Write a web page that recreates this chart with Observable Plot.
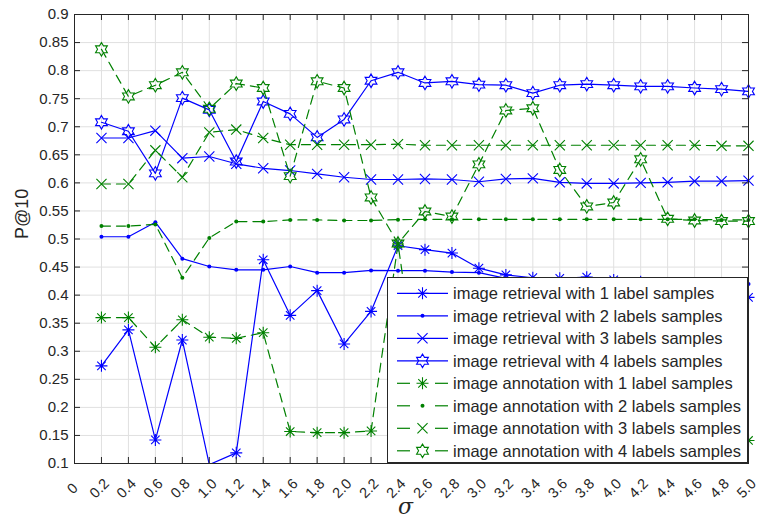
<!DOCTYPE html>
<html><head><meta charset="utf-8">
<script src="https://cdn.jsdelivr.net/npm/d3@7"></script>
<script src="https://cdn.jsdelivr.net/npm/@observablehq/plot@0.6"></script>
<style>body{margin:0;background:#fff;} svg{display:block;}</style>
</head><body><div id="chart"></div>
<script>
// ---- data ----
const sigma = [0.2,0.4,0.6,0.8,1.0,1.2,1.4,1.6,1.8,2.0,2.2,2.4,2.6,2.8,3.0,3.2,3.4,3.6,3.8,4.0,4.2,4.4,4.6,4.8,5.0];
const retrieval1 = [0.274,0.338,0.142,0.320,0.098,0.119,0.463,0.364,0.408,0.313,0.371,0.488,0.481,0.475,0.448,0.436,0.431,0.430,0.432,0.427,0.424,0.418,0.414,0.408,0.396];
const retrieval2 = [0.504,0.504,0.530,0.465,0.451,0.445,0.445,0.451,0.440,0.440,0.444,0.4435,0.4435,0.441,0.440,0.430,0.428,0.426,0.427,0.425,0.424,0.422,0.423,0.421,0.420];
const retrieval3 = [0.680,0.680,0.693,0.644,0.647,0.634,0.626,0.622,0.616,0.610,0.606,0.606,0.607,0.606,0.602,0.607,0.608,0.601,0.599,0.599,0.600,0.601,0.603,0.603,0.604];
const retrieval4 = [0.708,0.692,0.617,0.751,0.730,0.638,0.745,0.723,0.681,0.713,0.782,0.797,0.778,0.781,0.775,0.774,0.760,0.774,0.776,0.774,0.772,0.772,0.769,0.767,0.763];
const annotation1 = [0.360,0.360,0.307,0.356,0.325,0.323,0.333,0.157,0.155,0.155,0.158,0.491,0.160,0.155,0.158,0.152,0.156,0.150,0.153,0.149,0.151,0.147,0.148,0.145,0.141];
const annotation2 = [0.523,0.523,0.526,0.431,0.502,0.531,0.531,0.534,0.534,0.533,0.533,0.5345,0.535,0.535,0.535,0.535,0.535,0.535,0.535,0.535,0.535,0.535,0.535,0.534,0.534];
const annotation3 = [0.598,0.598,0.658,0.610,0.690,0.695,0.680,0.668,0.668,0.668,0.668,0.669,0.667,0.667,0.667,0.667,0.667,0.667,0.667,0.667,0.667,0.667,0.667,0.666,0.666];
const annotation4 = [0.838,0.754,0.774,0.797,0.732,0.777,0.769,0.612,0.781,0.769,0.574,0.492,0.549,0.540,0.633,0.729,0.733,0.623,0.558,0.565,0.642,0.536,0.533,0.532,0.532];
const seriesNames = [
  "image retrieval with 1 label samples",
  "image retrieval with 2 labels samples",
  "image retrieval with 3 labels samples",
  "image retrieval with 4 labels samples",
  "image annotation with 1 label samples",
  "image annotation with 2 labels samples",
  "image annotation with 3 labels samples",
  "image annotation with 4 labels samples"
];
const xTicks = [0,0.2,0.4,0.6,0.8,1.0,1.2,1.4,1.6,1.8,2.0,2.2,2.4,2.6,2.8,3.0,3.2,3.4,3.6,3.8,4.0,4.2,4.4,4.6,4.8,5.0];
const yTicks = [0.1,0.15,0.2,0.25,0.3,0.35,0.4,0.45,0.5,0.55,0.6,0.65,0.7,0.75,0.8,0.85,0.9];
const xLabel = "σ";
const yLabel = "P@10";

// ---- marker symbols ----
const asterisk = {draw(ctx, size){ const r = Math.sqrt(size/Math.PI), d = r*Math.SQRT1_2;
  ctx.moveTo(-r,0);ctx.lineTo(r,0);ctx.moveTo(0,-r);ctx.lineTo(0,r);
  ctx.moveTo(-d,-d);ctx.lineTo(d,d);ctx.moveTo(-d,d);ctx.lineTo(d,-d);}};
const cross = {draw(ctx, size){ const r = Math.sqrt(size/Math.PI)*0.78;
  ctx.moveTo(-r,-r);ctx.lineTo(r,r);ctx.moveTo(-r,r);ctx.lineTo(r,-r);}};
const hexagram = {draw(ctx, size){ const R = Math.sqrt(size/Math.PI), ri = R/Math.sqrt(3);
  for(let k=0;k<12;k++){ const a = -Math.PI/2 + k*Math.PI/6; const rr = k%2===0?R:ri;
    const px = rr*Math.cos(a), py = rr*Math.sin(a); if(k===0) ctx.moveTo(px,py); else ctx.lineTo(px,py);} ctx.closePath();}};

const blue = "#0000ff", green = "#008000";
const specs = [
  {vals: retrieval1, color: blue, dash: null, sym: asterisk, r: 6},
  {vals: retrieval2, color: blue, dash: null, sym: "dot", r: 2},
  {vals: retrieval3, color: blue, dash: null, sym: cross, r: 6.5},
  {vals: retrieval4, color: blue, dash: null, sym: hexagram, r: 6.8},
  {vals: annotation1, color: green, dash: "9,6", sym: asterisk, r: 6},
  {vals: annotation2, color: green, dash: "9,6", sym: "dot", r: 2},
  {vals: annotation3, color: green, dash: "9,6", sym: cross, r: 6.5},
  {vals: annotation4, color: green, dash: "9,6", sym: hexagram, r: 6.8}
];
specs.forEach((s,i) => { s.name = seriesNames[i]; s.rows = sigma.map((x,j) => ({x, y: s.vals[j]})); });

const fmtX = d => d === 0 ? "0" : d.toFixed(1);
const fmtY = d => String(+d.toFixed(2));
const frameColor = "#262626";
const plotH = 520 - 14 - 57, plotW = 758 - 74 - 10;

const marks = [
  Plot.gridX(xTicks, {stroke: "#e0e0e0", strokeOpacity: 1}),
  Plot.gridY(yTicks, {stroke: "#e0e0e0", strokeOpacity: 1})
];
for (const s of specs) {
  marks.push(Plot.line(s.rows, {x: "x", y: "y", stroke: s.color, strokeWidth: 1.2, strokeDasharray: s.dash, clip: true}));
  const inside = d => d.y >= 0.1 && d.y <= 0.9;
  if (s.sym === "dot") marks.push(Plot.dot(s.rows, {x: "x", y: "y", r: s.r, fill: s.color, stroke: "none", filter: inside}));
  else marks.push(Plot.dot(s.rows, {x: "x", y: "y", r: s.r, symbol: s.sym, stroke: s.color, fill: "none", strokeWidth: 1.1, filter: inside}));
}
marks.push(
  Plot.frame({stroke: frameColor, strokeWidth: 1}),
  Plot.tickX(xTicks, {x: d => d, insetTop: plotH - 6, stroke: frameColor}),
  Plot.tickX(xTicks, {x: d => d, insetBottom: plotH - 6, stroke: frameColor}),
  Plot.tickY(yTicks, {y: d => d, insetRight: plotW - 6, stroke: frameColor}),
  Plot.tickY(yTicks, {y: d => d, insetLeft: plotW - 6, stroke: frameColor}),
  Plot.axisY({ticks: yTicks, tickSize: 0, tickPadding: 6, tickFormat: fmtY, label: null, fontSize: 15, fill: "#262626"}),
  Plot.text(xTicks, {x: d => d, text: fmtX, frameAnchor: "bottom", dy: 25, dx: -2, rotate: -45, textAnchor: "middle", lineAnchor: "middle", fontSize: 14.5, fill: "#262626"}),
  Plot.text([xLabel], {text: d => d, frameAnchor: "bottom", dy: 50, dx: -6, lineAnchor: "bottom", fontSize: 22, fontStyle: "italic", fontFamily: "DejaVu Serif, Liberation Serif, serif", fill: "#262626"}),
  Plot.text([yLabel], {text: d => d, frameAnchor: "left", dx: -52, rotate: -90, fontSize: 18, fill: "#262626"})
);

const chart = Plot.plot({
  width: 758, height: 520,
  marginLeft: 74, marginRight: 10, marginTop: 14, marginBottom: 57,
  x: {domain: [0, 5], axis: null},
  y: {domain: [0.1, 0.9], axis: null},
  style: {fontFamily: "'Liberation Sans', Arial, Helvetica, sans-serif", fontSize: "15px", background: "#fff", overflow: "visible"},
  marks
});
document.getElementById("chart").appendChild(chart);

// ---- legend (inside plot, bottom-right) ----
const xs = chart.scale("x"), ys = chart.scale("y");
const right = xs.range[1], bottom = ys.range[0];
const lx0 = right - 361, ly0 = bottom - 186;
const svg = d3.select(chart);
const g = svg.append("g")
  .attr("font-family", "'Liberation Sans', Arial, Helvetica, sans-serif")
  .attr("font-size", 16.5).attr("text-anchor", "start");
g.append("rect").attr("x", lx0 + 0.5).attr("y", ly0 + 0.5).attr("width", 360).attr("height", 185)
  .attr("fill", "#fff").attr("stroke", frameColor).attr("stroke-width", 1);
specs.forEach((s, i) => {
  const cy = ly0 + 16.3 + i * 22.5;
  const a = lx0 + 10, b = lx0 + 61, m = (a + b) / 2;
  if (s.dash) {
    g.append("line").attr("x1", a).attr("x2", a + 13).attr("y1", cy).attr("y2", cy).attr("stroke", s.color).attr("stroke-width", 1.2);
    g.append("line").attr("x1", b - 13).attr("x2", b).attr("y1", cy).attr("y2", cy).attr("stroke", s.color).attr("stroke-width", 1.2);
  } else {
    g.append("line").attr("x1", a).attr("x2", b).attr("y1", cy).attr("y2", cy).attr("stroke", s.color).attr("stroke-width", 1.2);
  }
  if (s.sym === "dot") g.append("circle").attr("cx", m).attr("cy", cy).attr("r", 2).attr("fill", s.color);
  else g.append("path").attr("transform", `translate(${m},${cy})`).attr("d", d3.symbol(s.sym, Math.PI * s.r * s.r)())
        .attr("fill", "none").attr("stroke", s.color).attr("stroke-width", 1.1);
  g.append("text").attr("x", lx0 + 66).attr("y", cy).attr("dy", "0.35em").attr("text-anchor", "start").attr("fill", "#262626").text(s.name);
});
</script></body></html>
